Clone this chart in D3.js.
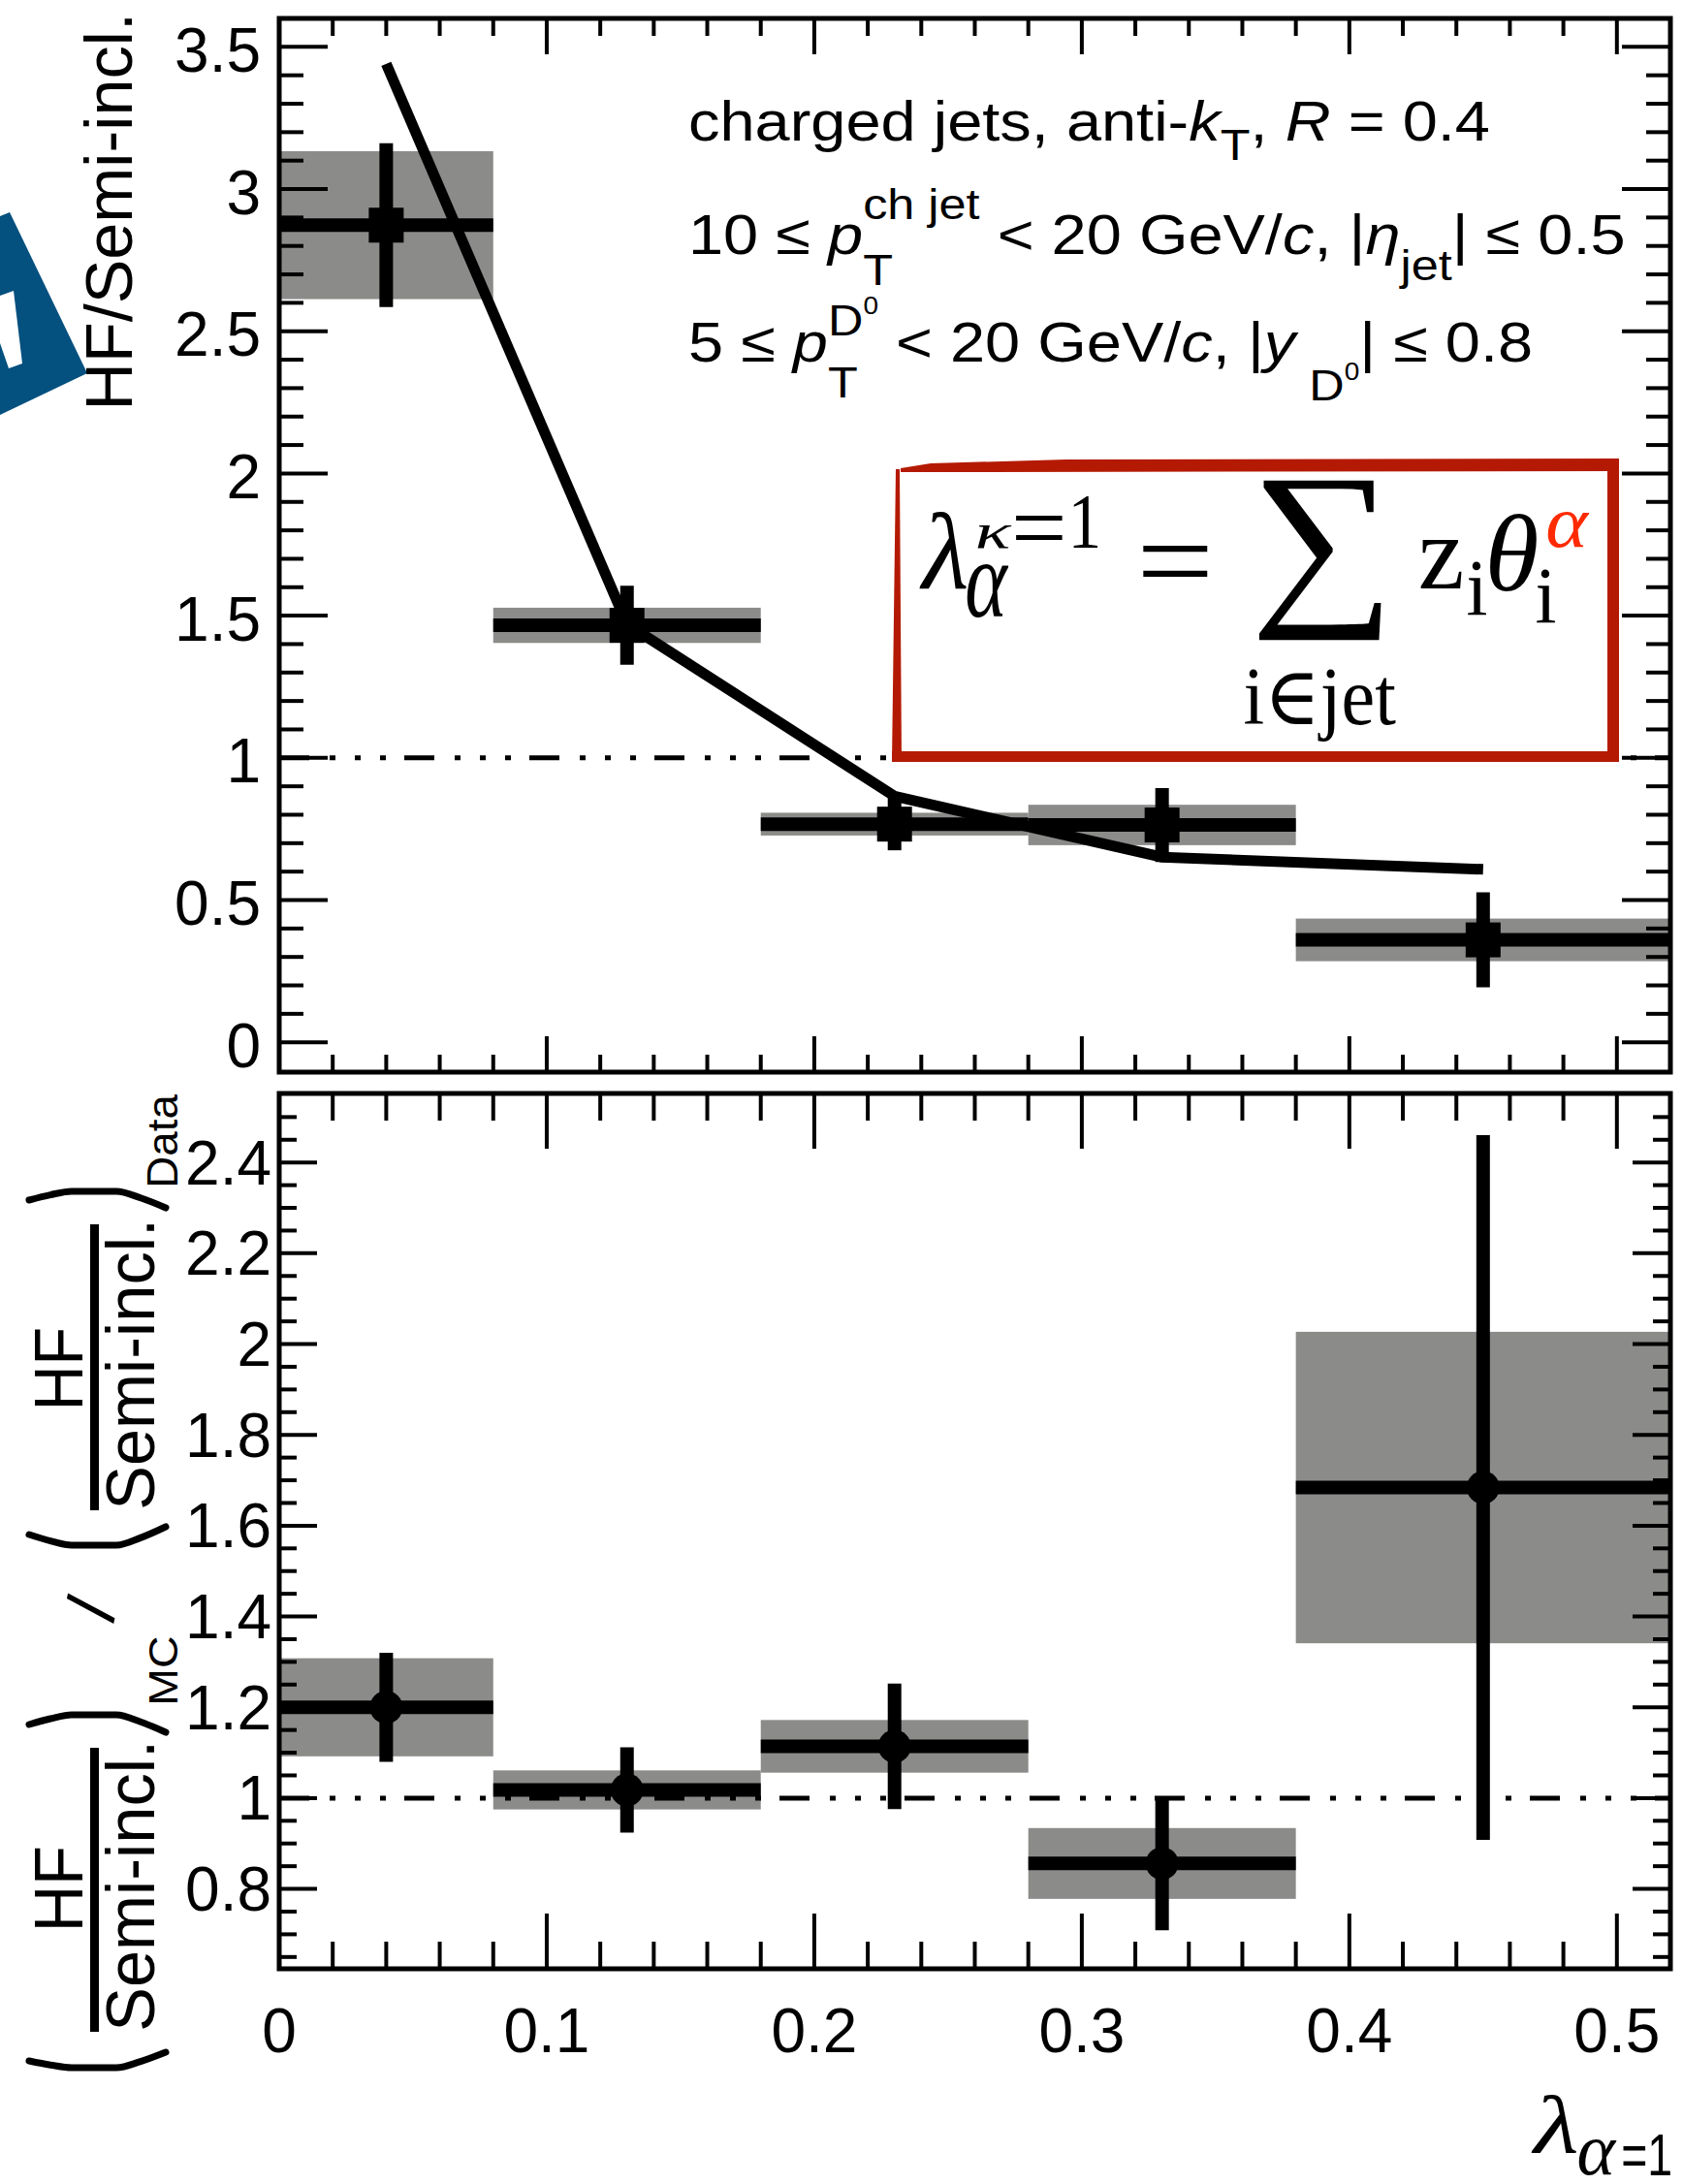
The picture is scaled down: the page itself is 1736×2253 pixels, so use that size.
<!DOCTYPE html>
<html>
<head>
<meta charset="utf-8">
<script src="https://cdn.jsdelivr.net/npm/d3@7"></script>
<style>
  html, body { margin: 0; padding: 0; background: #fff; }
  svg { display: block; }
</style>
</head>
<body>
<svg id="chart" width="1736" height="2253"></svg>
<script>
// ---------------- data ----------------
// lambda_(alpha=1) bins
const binLow    = [0.00, 0.08, 0.18, 0.28, 0.38];
const binHigh   = [0.08, 0.18, 0.28, 0.38, 0.52];
const binCenter = [0.04, 0.13, 0.23, 0.33, 0.45];

// HF / semi-inclusive, data (value, stat. and syst. half-widths)
const hfRatio     = [2.873, 1.466, 0.767, 0.764, 0.360];
const hfRatioStat = [0.288, 0.139, 0.092, 0.130, 0.167];
const hfRatioSyst = [0.260, 0.062, 0.040, 0.071, 0.075];

// HF / semi-inclusive, MC curve
const hfRatioMC = [3.44, 1.47, 0.865, 0.651, 0.608];

// (HF/Semi-incl.)_Data / (HF/Semi-incl.)_MC
const doubleRatio     = [1.200, 1.018, 1.114, 0.856, 1.684];
const doubleRatioStat = [0.120, 0.094, 0.138, 0.147, 0.776];
const doubleRatioSyst = [0.108, 0.043, 0.058, 0.078, 0.343];

// axis ticks
const topYMajor = [0, 0.5, 1, 1.5, 2, 2.5, 3, 3.5];
const botYMajor = [0.8, 1, 1.2, 1.4, 1.6, 1.8, 2, 2.2, 2.4];
const xMajor    = [0, 0.1, 0.2, 0.3, 0.4, 0.5];
const topYMinor = d3.range(0, 36).map(i => i / 10).filter(v => !topYMajor.includes(v));
const botYMinor = d3.range(13, 51).map(i => i / 20).filter(v => !botYMajor.some(m => Math.abs(m - v) < 1e-9));
const xMinor    = d3.range(1, 26).map(i => i / 50).filter(v => !xMajor.some(m => Math.abs(m - v) < 1e-9));

// ---------------- setup ----------------
const SANS  = "'Liberation Sans', Arial, Helvetica, sans-serif";
const SERIF = "'Liberation Serif', 'DejaVu Serif', 'Times New Roman', serif";
const GRAY  = "#8b8b89";
const RED   = "#b41a03";

const svg = d3.select("#chart");
svg.append("rect").attr("width", 1736).attr("height", 2253).attr("fill", "#fff");

const X0 = 288, X1 = 1723;
const TOP = { y0: 19, y1: 1106 };
const BOT = { y0: 1128, y1: 2031 };

const x    = d3.scaleLinear().domain([0, 0.52]).range([X0, X1]);
const yTop = d3.scaleLinear().domain([-0.105, 3.6]).range([TOP.y1, TOP.y0]);
const yBot = d3.scaleLinear().domain([0.624, 2.552]).range([BOT.y1, BOT.y0]);

const defs = svg.append("defs");
defs.append("clipPath").attr("id", "clipTop").append("rect")
  .attr("x", X0).attr("y", TOP.y0).attr("width", X1 - X0).attr("height", TOP.y1 - TOP.y0);
defs.append("clipPath").attr("id", "clipBot").append("rect")
  .attr("x", X0).attr("y", BOT.y0).attr("width", X1 - X0).attr("height", BOT.y1 - BOT.y0);

// ---------------- text helpers ----------------
const ctx = document.createElement("canvas").getContext("2d");
function ink(str, family, style) {
  ctx.font = `${style || "normal"} 100px ${family}`;
  const m = ctx.measureText(str);
  return { L: m.actualBoundingBoxLeft, R: m.actualBoundingBoxRight,
           A: m.actualBoundingBoxAscent, D: m.actualBoundingBoxDescent };
}
// place text so that its ink fills the box [x0, y0, x1, y1]
function fitText(parent, str, family, style, box, fill) {
  const m = ink(str, family, style);
  const [x0, y0, x1, y1] = box;
  const sx = (x1 - x0) / Math.max(1e-3, m.L + m.R);
  const sy = (y1 - y0) / Math.max(1e-3, m.A + m.D);
  parent.append("text")
    .attr("transform", `translate(${x0 + m.L * sx},${y0 + m.A * sy}) scale(${sx},${sy})`)
    .attr("font-family", family).attr("font-style", style || "normal")
    .attr("font-size", 100).attr("fill", fill || "#000").text(str);
}
// same, reading bottom-to-top
function fitTextUp(parent, str, family, style, box, fill) {
  const m = ink(str, family, style);
  const [x0, y0, x1, y1] = box;
  const sx = (y1 - y0) / Math.max(1e-3, m.L + m.R);
  const sy = (x1 - x0) / Math.max(1e-3, m.A + m.D);
  parent.append("text")
    .attr("transform", `translate(${x0 + m.A * sy},${y0 + m.R * sx}) rotate(-90) scale(${sx},${sy})`)
    .attr("font-family", family).attr("font-style", style || "normal")
    .attr("font-size", 100).attr("fill", fill || "#000").text(str);
}
// text centred (by its ink) on a point, at a given angle
function centredText(parent, str, family, size, cx, cy, angle) {
  const m = ink(str, family, "normal");
  const s = size / 100;
  const uc = (m.R - m.L) / 2 * s, vc = (m.D - m.A) / 2 * s;
  parent.append("text")
    .attr("transform", `translate(${cx},${cy}) rotate(${angle}) translate(${-uc},${-vc})`)
    .attr("font-family", family).attr("font-size", size).attr("fill", "#000").text(str);
}
function runWidth(r, base) {
  ctx.font = `${r.style || "normal"} ${r.size || base}px ${SANS}`;
  return ctx.measureText(r.t).width;
}
// a line of text with sub/superscripts
function richLine(x0, baseline, base, stretch, items) {
  const g = svg.append("g")
    .attr("transform", `translate(${x0},${baseline}) scale(${stretch},1)`)
    .attr("font-family", SANS).attr("fill", "#000");
  let cx = 0;
  const put = (r, at) => {
    g.append("text").attr("x", at).attr("y", r.dy || 0)
      .attr("font-size", r.size || base).attr("font-style", r.style || "normal")
      .attr("xml:space", "preserve").style("white-space", "pre").text(r.t);
    return runWidth(r, base);
  };
  items.forEach(it => {
    if (it.stack) {
      let w = 0;
      it.stack.forEach(seq => {
        let sx = cx;
        seq.forEach(r => { sx += put(r, sx); });
        w = Math.max(w, sx - cx);
      });
      cx += w;
    } else {
      cx += put(it, cx);
    }
  });
}

// ---------------- logo fragment ----------------
svg.append("polygon").attr("points", "0,223 10,219 90,385 0,428").attr("fill", "#04507f");
svg.append("polygon").attr("points", "0,305 14,300 23,375 9,380 0,354").attr("fill", "#fff");

// ---------------- upper panel ----------------
const upper = svg.append("g").attr("clip-path", "url(#clipTop)");

upper.selectAll("rect.syst").data(hfRatio).join("rect").attr("class", "syst")
  .attr("x", (d, i) => x(binLow[i]))
  .attr("width", (d, i) => x(binHigh[i]) - x(binLow[i]))
  .attr("y", (d, i) => yTop(d + hfRatioSyst[i]))
  .attr("height", (d, i) => yTop(d - hfRatioSyst[i]) - yTop(d + hfRatioSyst[i]))
  .attr("fill", GRAY);

// reference line at unity
const DASH = "31 21 6 20 6 20 6 19";
upper.append("line").attr("x1", X0).attr("x2", X1).attr("y1", yTop(1)).attr("y2", yTop(1))
  .attr("stroke", "#000").attr("stroke-width", 5).attr("stroke-dasharray", DASH);

// formula box
const fbox = svg.append("g");
fbox.append("rect").attr("x", 921).attr("y", 475).attr("width", 748).attr("height", 310).attr("fill", "#fff");
fbox.append("polygon").attr("points", "929,483 960,478 1100,474 1669,473 1669,486 929,487").attr("fill", RED);
fbox.append("polygon").attr("points", "924,484 928,484 930,786 920,786").attr("fill", RED);
fbox.append("rect").attr("x", 920).attr("y", 775).attr("width", 750).attr("height", 11).attr("fill", RED);
fbox.append("rect").attr("x", 1658).attr("y", 473).attr("width", 12).attr("height", 313).attr("fill", RED);

fitText(fbox, "λ", SERIF, "italic", [948, 528, 997, 608]);
fitText(fbox, "κ", SERIF, "italic", [1008, 542, 1044, 565]);
fitText(fbox, "=", SERIF, "normal", [1047, 532, 1096, 557]);
fitText(fbox, "1", SERIF, "normal", [1107, 512, 1132, 565]);
fitText(fbox, "α", SERIF, "italic", [997, 582, 1041, 637]);
fitText(fbox, "=", SERIF, "normal", [1178, 562, 1246, 594]);
fitText(fbox, "∑", SERIF, "normal", [1298, 495, 1426, 662]);
fitText(fbox, "z", SERIF, "normal", [1465, 557, 1508, 607]);
fitText(fbox, "i", SERIF, "normal", [1514, 580, 1533, 635]);
fitText(fbox, "θ", SERIF, "italic", [1536, 530, 1585, 610]);
fitText(fbox, "α", SERIF, "italic", [1596, 528, 1640, 565], "#ff2a00");
fitText(fbox, "i", SERIF, "normal", [1585, 588, 1604, 643]);
fitText(fbox, "i∈jet", SERIF, "normal", [1284, 692, 1440, 765]);

// stat. error bars, bin-width bars, markers
upper.selectAll("line.stat").data(hfRatio).join("line").attr("class", "stat")
  .attr("x1", (d, i) => x(binCenter[i])).attr("x2", (d, i) => x(binCenter[i]))
  .attr("y1", (d, i) => yTop(d + hfRatioStat[i])).attr("y2", (d, i) => yTop(d - hfRatioStat[i]))
  .attr("stroke", "#000").attr("stroke-width", 14);
upper.selectAll("line.bin").data(hfRatio).join("line").attr("class", "bin")
  .attr("x1", (d, i) => x(binLow[i])).attr("x2", (d, i) => x(binHigh[i]))
  .attr("y1", d => yTop(d)).attr("y2", d => yTop(d))
  .attr("stroke", "#000").attr("stroke-width", 14);
upper.selectAll("rect.mk").data(hfRatio).join("rect").attr("class", "mk")
  .attr("x", (d, i) => x(binCenter[i]) - 18).attr("y", d => yTop(d) - 18)
  .attr("width", 36).attr("height", 36).attr("fill", "#000");

// MC curve
const mcLine = d3.line().x((d, i) => x(binCenter[i])).y(d => yTop(d));
upper.append("path").datum(hfRatioMC).attr("d", mcLine)
  .attr("fill", "none").attr("stroke", "#000").attr("stroke-width", 11)
  .attr("stroke-linejoin", "miter").attr("stroke-linecap", "butt");

// ---------------- lower panel ----------------
const lower = svg.append("g").attr("clip-path", "url(#clipBot)");
lower.selectAll("rect.syst").data(doubleRatio).join("rect").attr("class", "syst")
  .attr("x", (d, i) => x(binLow[i]))
  .attr("width", (d, i) => x(binHigh[i]) - x(binLow[i]))
  .attr("y", (d, i) => yBot(d + doubleRatioSyst[i]))
  .attr("height", (d, i) => yBot(d - doubleRatioSyst[i]) - yBot(d + doubleRatioSyst[i]))
  .attr("fill", GRAY);
lower.append("line").attr("x1", X0).attr("x2", X1).attr("y1", yBot(1)).attr("y2", yBot(1))
  .attr("stroke", "#000").attr("stroke-width", 5).attr("stroke-dasharray", DASH);
lower.selectAll("line.stat").data(doubleRatio).join("line").attr("class", "stat")
  .attr("x1", (d, i) => x(binCenter[i])).attr("x2", (d, i) => x(binCenter[i]))
  .attr("y1", (d, i) => yBot(d + doubleRatioStat[i])).attr("y2", (d, i) => yBot(d - doubleRatioStat[i]))
  .attr("stroke", "#000").attr("stroke-width", 14);
lower.selectAll("line.bin").data(doubleRatio).join("line").attr("class", "bin")
  .attr("x1", (d, i) => x(binLow[i])).attr("x2", (d, i) => x(binHigh[i]))
  .attr("y1", d => yBot(d)).attr("y2", d => yBot(d))
  .attr("stroke", "#000").attr("stroke-width", 14);
lower.selectAll("circle.mk").data(doubleRatio).join("circle").attr("class", "mk")
  .attr("cx", (d, i) => x(binCenter[i])).attr("cy", d => yBot(d)).attr("r", 17).attr("fill", "#000");

// ---------------- axes and frames ----------------
const fmt = d => String(d);
const noLabel = () => "";
function styleAxis(g) {
  g.select(".domain").remove();
  g.selectAll(".tick line").attr("stroke", "#000").attr("stroke-width", 4);
  g.attr("font-family", SANS).attr("font-size", 64);
  g.selectAll(".tick text").attr("fill", "#000");
}
function panelAxes(p) {
  const g = svg.append("g");
  const add = (tr, axis) => g.append("g").attr("transform", tr).call(axis.offset(0)).call(styleAxis);
  // left / right
  const left = add(`translate(${X0},0)`, d3.axisLeft(p.y).tickValues(p.yMajor).tickSize(-p.yLenMajor)
    .tickPadding(p.yPad).tickFormat(fmt));
  left.selectAll(".tick text").attr("dy", p.yDy);
  add(`translate(${X0},0)`, d3.axisLeft(p.y).tickValues(p.yMinor).tickSize(-p.yLenMinor).tickFormat(noLabel));
  add(`translate(${X1},0)`, d3.axisRight(p.y).tickValues(p.yMajor).tickSize(-p.yLenMajor).tickFormat(noLabel));
  add(`translate(${X1},0)`, d3.axisRight(p.y).tickValues(p.yMinor).tickSize(-p.yLenMinor).tickFormat(noLabel));
  // top / bottom
  add(`translate(0,${p.y0})`, d3.axisTop(x).tickValues(xMajor).tickSize(-p.xLenMajor).tickFormat(noLabel));
  add(`translate(0,${p.y0})`, d3.axisTop(x).tickValues(xMinor).tickSize(-p.xLenMinor).tickFormat(noLabel));
  add(`translate(0,${p.y1})`, d3.axisBottom(x).tickValues(xMajor).tickSize(-p.xLenMajor)
    .tickPadding(41).tickFormat(p.xLabels ? fmt : noLabel));
  add(`translate(0,${p.y1})`, d3.axisBottom(x).tickValues(xMinor).tickSize(-p.xLenMinor).tickFormat(noLabel));
  g.append("rect").attr("x", X0).attr("y", p.y0).attr("width", X1 - X0).attr("height", p.y1 - p.y0)
    .attr("fill", "none").attr("stroke", "#000").attr("stroke-width", 5);
}
panelAxes({ y: yTop, y0: TOP.y0, y1: TOP.y1, yMajor: topYMajor, yMinor: topYMinor,
  yLenMajor: 50, yLenMinor: 25, xLenMajor: 37, xLenMinor: 18, yPad: 19, yDy: "0.4em", xLabels: false });
panelAxes({ y: yBot, y0: BOT.y0, y1: BOT.y1, yMajor: botYMajor, yMinor: botYMinor,
  yLenMajor: 39, yLenMinor: 18, xLenMajor: 57, xLenMinor: 28, yPad: 8, yDy: "0.35em", xLabels: true });

// ---------------- titles ----------------
const titles = svg.append("g");
fitTextUp(titles, "HF/Semi-incl.", SANS, "normal", [86, 19, 137, 418]);

// lower y title: (HF/Semi-incl.)_Data / (HF/Semi-incl.)_MC, reading upwards
fitTextUp(titles, "HF", SANS, "normal", [37, 1906, 85, 1988]);
fitTextUp(titles, "Semi-incl.", SANS, "normal", [108, 1801, 160, 2093]);
titles.append("rect").attr("x", 93).attr("y", 1803).attr("width", 9).attr("height", 293).attr("fill", "#000");
fitTextUp(titles, "MC", SANS, "normal", [153, 1689, 183, 1756]);
centredText(titles, "/", SANS, 72, 93.5, 1659, -77);
fitTextUp(titles, "HF", SANS, "normal", [37, 1371, 85, 1450]);
fitTextUp(titles, "Semi-incl.", SANS, "normal", [108, 1263, 160, 1555]);
titles.append("rect").attr("x", 93).attr("y", 1263).attr("width", 9).attr("height", 295).attr("fill", "#000");
fitTextUp(titles, "Data", SANS, "normal", [152, 1129, 183, 1222]);
// large brackets around the two fractions (end heights left/right, flat middle)
const brackets = [
  { left: 2126, right: 2117, mid: 2133 },
  { left: 1779, right: 1787, mid: 1769 },
  { left: 1583, right: 1575, mid: 1594 },
  { left: 1238, right: 1246, mid: 1229 }
];
const bracketPath = b => {
  const pts = [[30, b.left], [52, b.left + (b.mid - b.left) * 0.6], [74, b.mid], [120, b.mid],
               [145, b.right + (b.mid - b.right) * 0.6], [171, b.right]];
  return d3.line().curve(d3.curveMonotoneX)(pts);
};
titles.selectAll("path.br").data(brackets).join("path").attr("class", "br")
  .attr("d", bracketPath)
  .attr("fill", "none").attr("stroke", "#000").attr("stroke-width", 7)
  .attr("stroke-linecap", "round").attr("stroke-linejoin", "round");

// x title
fitText(titles, "λ", SERIF, "italic", [1579, 2161, 1626, 2221]);
fitText(titles, "α", SERIF, "italic", [1628, 2207, 1668, 2244]);
fitText(titles, "=1", SANS, "normal", [1674, 2202, 1723, 2244]);

// ---------------- selection text ----------------
const base = 58, small = 45, tiny = 25, stretch = 1.12;
richLine(710, 145, base, stretch, [
  { t: "charged jets, anti-" }, { t: "k", style: "italic" },
  { t: "T", size: small, dy: 20 }, { t: ", " }, { t: "R", style: "italic" }, { t: " = 0.4" }
]);
richLine(710, 262, base, stretch, [
  { t: "10 ≤ " }, { t: "p", style: "italic" },
  { stack: [[{ t: "ch jet", size: small, dy: -36 }], [{ t: "T", size: small, dy: 32 }]] },
  { t: " < 20 GeV/" }, { t: "c", style: "italic" }, { t: ", |" }, { t: "η", style: "italic" },
  { t: "jet", size: small, dy: 27 }, { t: "| ≤ 0.5" }
]);
richLine(710, 373, base, stretch, [
  { t: "5 ≤ " }, { t: "p", style: "italic" },
  { stack: [[{ t: "D", size: small, dy: -27 }, { t: "0", size: tiny, dy: -49 }],
            [{ t: "T", size: small, dy: 37 }]] },
  { t: " < 20 GeV/" }, { t: "c", style: "italic" }, { t: ", |" }, { t: "y", style: "italic" },
  { t: " D", size: small, dy: 40 }, { t: "0", size: tiny, dy: 19 }, { t: "| ≤ 0.8" }
]);
</script>
</body>
</html>
